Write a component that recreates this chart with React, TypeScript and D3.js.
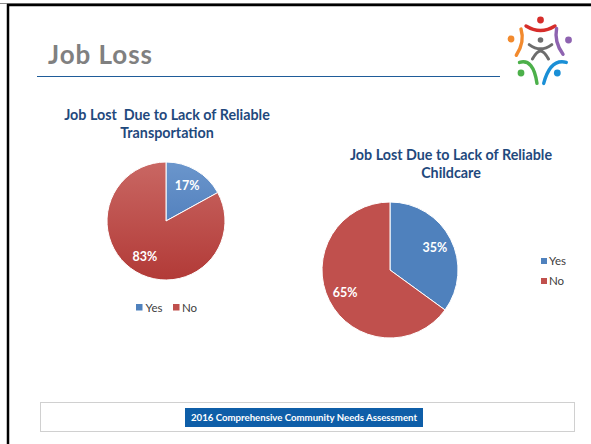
import React from "react";
import * as d3 from "d3";

const categories = ["Yes", "No"];
const transportValues = [17, 83];
const childcareValues = [35, 65];
const transportTitle = ["Job Lost  Due to Lack of Reliable", "Transportation"];
const childcareTitle = ["Job Lost Due to Lack of Reliable", "Childcare"];
const slideTitle = "Job Loss";
const footerText = "2016 Comprehensive Community Needs Assessment";

const BLUE = "#4f81bd";
const RED = "#c0504d";
const TITLE_COLOR = "#1f497d";
const FONT = "Lato, 'Open Sans', sans-serif";

type PieProps = {
  values: number[];
  cx: number;
  cy: number;
  r: number;
  labelFrac: number;
  gradient?: boolean;
  idp: string;
};

function Pie({ values, cx, cy, r, labelFrac, gradient, idp }: PieProps) {
  const pie = d3.pie<number>().sort(null)(values);
  const arc = d3.arc<d3.PieArcDatum<number>>().innerRadius(0).outerRadius(r);
  const labelArc = d3
    .arc<d3.PieArcDatum<number>>()
    .innerRadius(r * labelFrac)
    .outerRadius(r * labelFrac);
  const colors = [BLUE, RED];
  return (
    <g transform={`translate(${cx},${cy})`}>
      {gradient && (
        <defs>
          <linearGradient id={`${idp}-0`} x1="0" y1={-r} x2="0" y2={r} gradientUnits="userSpaceOnUse">
            <stop offset="0" stopColor="#6b96cc" />
            <stop offset="1" stopColor="#3c6db0" />
          </linearGradient>
          <linearGradient id={`${idp}-1`} x1="0" y1={-r} x2="0" y2={r} gradientUnits="userSpaceOnUse">
            <stop offset="0" stopColor="#c96763" />
            <stop offset="1" stopColor="#b23a37" />
          </linearGradient>
        </defs>
      )}
      {pie.map((d, i) => (
        <path
          key={i}
          d={arc(d) || ""}
          fill={gradient ? `url(#${idp}-${i})` : colors[i]}
          stroke="#ffffff"
          strokeWidth={1}
        />
      ))}
      {pie.map((d, i) => {
        const [x, y] = labelArc.centroid(d);
        return (
          <text
            key={`l${i}`}
            x={x}
            y={y}
            dy="0.35em"
            textAnchor="middle"
            fill="#ffffff"
            fontFamily={FONT}
            fontWeight="bold"
            fontSize={12.5}
          >
            {`${d.data}%`}
          </text>
        );
      })}
    </g>
  );
}

function Logo() {
  const sw = 3.4;
  const common = { fill: "none", strokeWidth: sw, strokeLinecap: "round" as const };
  return (
    <g>
      <circle cx={540.5} cy={20} r={3.4} fill="#d62d2a" />
      <path d="M526,26 Q540.5,35 555,26" stroke="#d62d2a" {...common} />
      <circle cx={511} cy={39} r={3.4} fill="#f28a2e" />
      <path d="M521,29 Q525,42 516.3,55.3" stroke="#f28a2e" {...common} />
      <circle cx={568.5} cy={40} r={3.4} fill="#8e63b0" />
      <path d="M556.6,28.5 Q554,42 563,54.3" stroke="#8e63b0" {...common} />
      <circle cx={521} cy={73} r={3.4} fill="#4cb04a" />
      <path d="M519.5,62.4 Q533.4,58.3 537,83.4" stroke="#4cb04a" {...common} />
      <circle cx={557.3} cy={73} r={3.4} fill="#1a8fd6" />
      <path d="M566.3,62.4 Q550.4,58.3 543.7,83.4" stroke="#1a8fd6" {...common} />
      <circle cx={540.5} cy={40} r={2.8} fill="#6d6d6d" />
      <path d="M529.2,44.6 Q540.5,53 551.8,44.6" stroke="#6d6d6d" {...common} strokeWidth={3} />
      <path d="M532.4,59 Q537,51 540.5,51 Q544,51 548.5,59" stroke="#6d6d6d" {...common} strokeWidth={3} />
    </g>
  );
}

export default function App() {
  return (
    <svg
      width={591}
      height={444}
      style={{ position: "absolute", left: 0, top: 0, background: "#ffffff" }}
    >
      <rect x={0} y={0} width={591} height={444} fill="#ffffff" />
      {/* slide frame */}
      <line x1={0} y1={3.5} x2={591} y2={3.5} stroke="#8a8a8a" strokeWidth={1} />
      <line x1={7} y1={5} x2={591} y2={5} stroke="#000000" strokeWidth={2.5} />
      <line x1={8} y1={4} x2={8} y2={444} stroke="#000000" strokeWidth={2.5} />

      {/* slide title */}
      <text
        x={48}
        y={64}
        fontFamily={FONT}
        fontWeight="bold"
        fontSize={26}
        textLength={104}
        lengthAdjust="spacing"
        fill="#808080"
      >
        {slideTitle}
      </text>
      <line x1={37} y1={76.5} x2={500} y2={76.5} stroke="#1f5c99" strokeWidth={1} />
      <Logo />

      {/* left chart */}
      {transportTitle.map((t, i) => (
        <text
          key={t}
          x={167}
          y={119.5 + i * 18}
          textAnchor="middle"
          fontFamily={FONT}
          fontWeight="bold"
          fontSize={14.3}
          fill={TITLE_COLOR}
          style={{ whiteSpace: "pre" }}
        >
          {t}
        </text>
      ))}
      <Pie values={transportValues} cx={166} cy={221} r={59} labelFrac={0.7} gradient idp="tg" />
      <g fontFamily={FONT} fontSize={11.5} fill="#404040">
        <rect x={136} y={304} width={6.5} height={6.5} fill={BLUE} />
        <text x={145.5} y={312}>{categories[0]}</text>
        <rect x={173} y={304} width={6.5} height={6.5} fill={RED} />
        <text x={182} y={312}>{categories[1]}</text>
      </g>

      {/* right chart */}
      {childcareTitle.map((t, i) => (
        <text
          key={t}
          x={451}
          y={159.5 + i * 18}
          textAnchor="middle"
          fontFamily={FONT}
          fontWeight="bold"
          fontSize={14.3}
          fill={TITLE_COLOR}
        >
          {t}
        </text>
      ))}
      <Pie values={childcareValues} cx={390} cy={270} r={68} labelFrac={0.74} idp="cg" />
      <g fontFamily={FONT} fontSize={11.5} fill="#404040">
        <rect x={541} y={258} width={6} height={6} fill={BLUE} />
        <text x={549} y={265}>{categories[0]}</text>
        <rect x={541} y={278} width={6} height={6} fill={RED} />
        <text x={549} y={285}>{categories[1]}</text>
      </g>

      {/* footer */}
      <rect x={40.5} y={402.5} width={534} height={29} fill="#ffffff" stroke="#d0d0d0" strokeWidth={1} />
      <rect x={185} y={408} width={238} height={19} fill="#0e5ea8" />
      <text
        x={304}
        y={421}
        textAnchor="middle"
        fontFamily={FONT}
        fontWeight="bold"
        fontSize={8.5}
        textLength={226}
        lengthAdjust="spacingAndGlyphs"
        fill="#ffffff"
      >
        {footerText}
      </text>
    </svg>
  );
}
